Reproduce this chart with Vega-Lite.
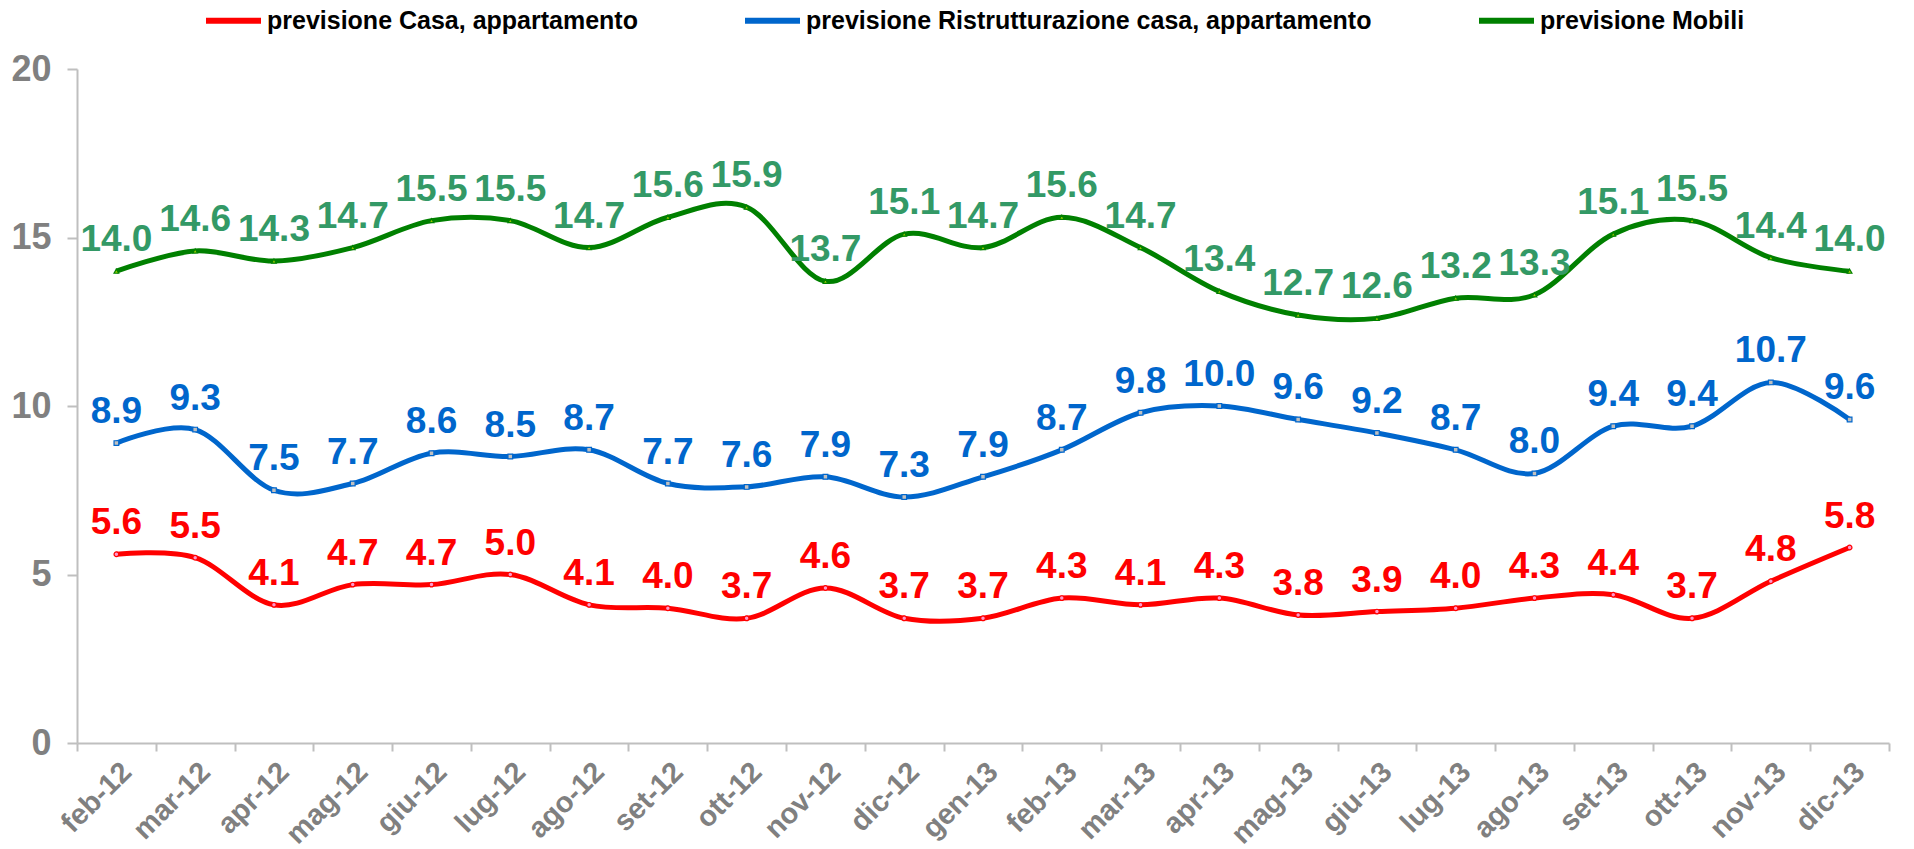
{
  "$schema": "https://vega.github.io/schema/vega-lite/v6.json",
  "width": 1812,
  "height": 674,
  "autosize": {"type": "none"},
  "padding": {"left": 77, "top": 69, "right": 25, "bottom": 106},
  "background": "white",
  "config": {
    "font": "Liberation Sans",
    "view": {"stroke": null}
  },
  "data": {
    "values": [
      {"mese": "feb-12", "serie": "previsione Casa, appartamento", "v": 5.6},
      {"mese": "mar-12", "serie": "previsione Casa, appartamento", "v": 5.5},
      {"mese": "apr-12", "serie": "previsione Casa, appartamento", "v": 4.1},
      {"mese": "mag-12", "serie": "previsione Casa, appartamento", "v": 4.7},
      {"mese": "giu-12", "serie": "previsione Casa, appartamento", "v": 4.7},
      {"mese": "lug-12", "serie": "previsione Casa, appartamento", "v": 5.0},
      {"mese": "ago-12", "serie": "previsione Casa, appartamento", "v": 4.1},
      {"mese": "set-12", "serie": "previsione Casa, appartamento", "v": 4.0},
      {"mese": "ott-12", "serie": "previsione Casa, appartamento", "v": 3.7},
      {"mese": "nov-12", "serie": "previsione Casa, appartamento", "v": 4.6},
      {"mese": "dic-12", "serie": "previsione Casa, appartamento", "v": 3.7},
      {"mese": "gen-13", "serie": "previsione Casa, appartamento", "v": 3.7},
      {"mese": "feb-13", "serie": "previsione Casa, appartamento", "v": 4.3},
      {"mese": "mar-13", "serie": "previsione Casa, appartamento", "v": 4.1},
      {"mese": "apr-13", "serie": "previsione Casa, appartamento", "v": 4.3},
      {"mese": "mag-13", "serie": "previsione Casa, appartamento", "v": 3.8},
      {"mese": "giu-13", "serie": "previsione Casa, appartamento", "v": 3.9},
      {"mese": "lug-13", "serie": "previsione Casa, appartamento", "v": 4.0},
      {"mese": "ago-13", "serie": "previsione Casa, appartamento", "v": 4.3},
      {"mese": "set-13", "serie": "previsione Casa, appartamento", "v": 4.4},
      {"mese": "ott-13", "serie": "previsione Casa, appartamento", "v": 3.7},
      {"mese": "nov-13", "serie": "previsione Casa, appartamento", "v": 4.8},
      {"mese": "dic-13", "serie": "previsione Casa, appartamento", "v": 5.8},
      {"mese": "feb-12", "serie": "previsione Ristrutturazione casa, appartamento", "v": 8.9},
      {"mese": "mar-12", "serie": "previsione Ristrutturazione casa, appartamento", "v": 9.3},
      {"mese": "apr-12", "serie": "previsione Ristrutturazione casa, appartamento", "v": 7.5},
      {"mese": "mag-12", "serie": "previsione Ristrutturazione casa, appartamento", "v": 7.7},
      {"mese": "giu-12", "serie": "previsione Ristrutturazione casa, appartamento", "v": 8.6},
      {"mese": "lug-12", "serie": "previsione Ristrutturazione casa, appartamento", "v": 8.5},
      {"mese": "ago-12", "serie": "previsione Ristrutturazione casa, appartamento", "v": 8.7},
      {"mese": "set-12", "serie": "previsione Ristrutturazione casa, appartamento", "v": 7.7},
      {"mese": "ott-12", "serie": "previsione Ristrutturazione casa, appartamento", "v": 7.6},
      {"mese": "nov-12", "serie": "previsione Ristrutturazione casa, appartamento", "v": 7.9},
      {"mese": "dic-12", "serie": "previsione Ristrutturazione casa, appartamento", "v": 7.3},
      {"mese": "gen-13", "serie": "previsione Ristrutturazione casa, appartamento", "v": 7.9},
      {"mese": "feb-13", "serie": "previsione Ristrutturazione casa, appartamento", "v": 8.7},
      {"mese": "mar-13", "serie": "previsione Ristrutturazione casa, appartamento", "v": 9.8},
      {"mese": "apr-13", "serie": "previsione Ristrutturazione casa, appartamento", "v": 10.0},
      {"mese": "mag-13", "serie": "previsione Ristrutturazione casa, appartamento", "v": 9.6},
      {"mese": "giu-13", "serie": "previsione Ristrutturazione casa, appartamento", "v": 9.2},
      {"mese": "lug-13", "serie": "previsione Ristrutturazione casa, appartamento", "v": 8.7},
      {"mese": "ago-13", "serie": "previsione Ristrutturazione casa, appartamento", "v": 8.0},
      {"mese": "set-13", "serie": "previsione Ristrutturazione casa, appartamento", "v": 9.4},
      {"mese": "ott-13", "serie": "previsione Ristrutturazione casa, appartamento", "v": 9.4},
      {"mese": "nov-13", "serie": "previsione Ristrutturazione casa, appartamento", "v": 10.7},
      {"mese": "dic-13", "serie": "previsione Ristrutturazione casa, appartamento", "v": 9.6},
      {"mese": "feb-12", "serie": "previsione Mobili", "v": 14.0},
      {"mese": "mar-12", "serie": "previsione Mobili", "v": 14.6},
      {"mese": "apr-12", "serie": "previsione Mobili", "v": 14.3},
      {"mese": "mag-12", "serie": "previsione Mobili", "v": 14.7},
      {"mese": "giu-12", "serie": "previsione Mobili", "v": 15.5},
      {"mese": "lug-12", "serie": "previsione Mobili", "v": 15.5},
      {"mese": "ago-12", "serie": "previsione Mobili", "v": 14.7},
      {"mese": "set-12", "serie": "previsione Mobili", "v": 15.6},
      {"mese": "ott-12", "serie": "previsione Mobili", "v": 15.9},
      {"mese": "nov-12", "serie": "previsione Mobili", "v": 13.7},
      {"mese": "dic-12", "serie": "previsione Mobili", "v": 15.1},
      {"mese": "gen-13", "serie": "previsione Mobili", "v": 14.7},
      {"mese": "feb-13", "serie": "previsione Mobili", "v": 15.6},
      {"mese": "mar-13", "serie": "previsione Mobili", "v": 14.7},
      {"mese": "apr-13", "serie": "previsione Mobili", "v": 13.4},
      {"mese": "mag-13", "serie": "previsione Mobili", "v": 12.7},
      {"mese": "giu-13", "serie": "previsione Mobili", "v": 12.6},
      {"mese": "lug-13", "serie": "previsione Mobili", "v": 13.2},
      {"mese": "ago-13", "serie": "previsione Mobili", "v": 13.3},
      {"mese": "set-13", "serie": "previsione Mobili", "v": 15.1},
      {"mese": "ott-13", "serie": "previsione Mobili", "v": 15.5},
      {"mese": "nov-13", "serie": "previsione Mobili", "v": 14.4},
      {"mese": "dic-13", "serie": "previsione Mobili", "v": 14.0}
    ]
  },
  "encoding": {
    "x": {
      "field": "mese",
      "type": "ordinal",
      "sort": null,
      "scale": {"type": "band", "paddingInner": 0, "paddingOuter": 0},
      "axis": {
        "title": null,
        "labelAngle": -45,
        "labelFontSize": 29,
        "labelFontWeight": "bold",
        "labelColor": "#808080",
        "labelPadding": 6,
        "domainColor": "#BFBFBF",
        "domainWidth": 2,
        "tickColor": "#BFBFBF",
        "tickWidth": 2,
        "tickSize": 8,
        "tickBand": "extent",
        "grid": false
      }
    },
    "y": {
      "field": "v",
      "type": "quantitative",
      "scale": {"domain": [0, 20], "nice": false},
      "axis": {
        "title": null,
        "values": [0, 5, 10, 15, 20],
        "labelFontSize": 36,
        "labelFontWeight": "bold",
        "labelColor": "#808080",
        "labelPadding": 16,
        "domainColor": "#BFBFBF",
        "domainWidth": 2,
        "tickColor": "#BFBFBF",
        "tickWidth": 2,
        "tickSize": 10,
        "grid": false
      }
    }
  },
  "layer": [
    {
      "mark": {"type": "line", "interpolate": "cardinal", "strokeWidth": 5},
      "encoding": {
        "color": {
          "field": "serie",
          "type": "nominal",
          "scale": {
            "domain": ["previsione Casa, appartamento", "previsione Ristrutturazione casa, appartamento", "previsione Mobili"],
            "range": ["#FF0000", "#0066CC", "#008000"]
          },
          "legend": {
            "title": null,
            "orient": "none",
            "legendX": 126,
            "legendY": -79,
            "direction": "horizontal",
            "columns": 3,
            "columnPadding": 95,
            "symbolType": "stroke",
            "symbolSize": 3025,
            "symbolStrokeWidth": 6,
            "labelFontSize": 25,
            "labelFontWeight": "bold",
            "labelColor": "#000000",
            "labelOffset": 3,
            "labelLimit": 1000
          }
        }
      }
    },
    {
      "transform": [{"filter": "datum.serie === 'previsione Casa, appartamento'"}],
      "mark": {"type": "point", "shape": "circle", "filled": false, "fill": "#FF99CC", "stroke": "#FF0000", "size": 22, "strokeWidth": 1.2, "opacity": 1}
    },
    {
      "transform": [{"filter": "datum.serie === 'previsione Ristrutturazione casa, appartamento'"}],
      "mark": {"type": "point", "shape": "square", "filled": false, "fill": "#C0C0C0", "stroke": "#0066CC", "size": 22, "strokeWidth": 1.2, "opacity": 1}
    },
    {
      "transform": [{"filter": "datum.serie === 'previsione Mobili'"}],
      "mark": {"type": "point", "shape": "triangle-up", "filled": false, "fill": "#99CC00", "stroke": "#008000", "size": 22, "strokeWidth": 1.2, "opacity": 1}
    },
    {
      "mark": {"type": "text", "fontSize": 37, "fontWeight": "bold", "baseline": "alphabetic", "dy": -20},
      "encoding": {
        "text": {"field": "v", "type": "quantitative", "format": ".1f"},
        "fill": {
          "field": "serie",
          "type": "nominal",
          "scale": {
            "domain": ["previsione Casa, appartamento", "previsione Ristrutturazione casa, appartamento", "previsione Mobili"],
            "range": ["#FF0000", "#0066CC", "#339966"]
          },
          "legend": null
        }
      }
    }
  ]
}
